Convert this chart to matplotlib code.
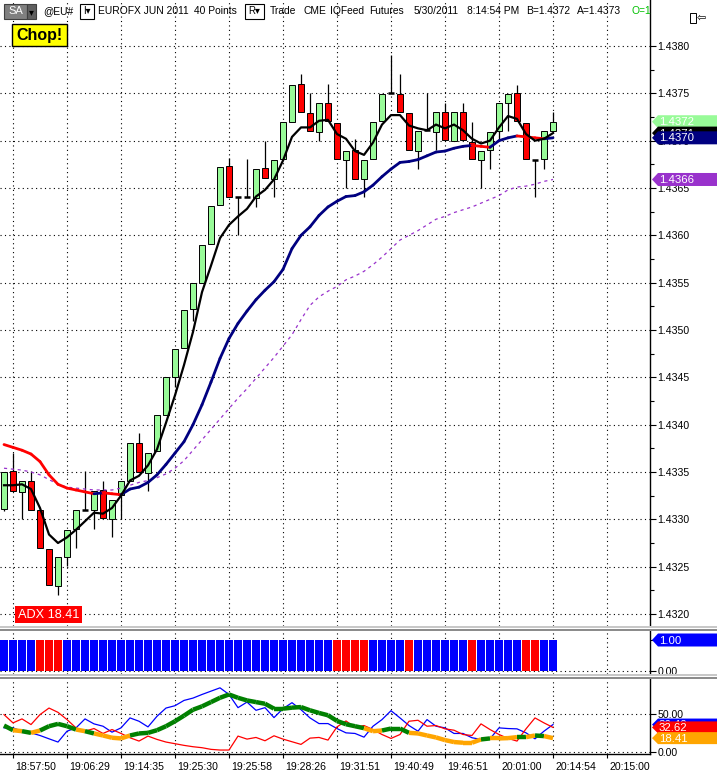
import numpy as np
import matplotlib
matplotlib.use('Agg')
import matplotlib.pyplot as plt
import matplotlib.transforms as mtransforms
from matplotlib.patches import Rectangle, Polygon
from matplotlib.collections import LineCollection

plt.rcParams['font.family'] = ['Liberation Sans', 'DejaVu Sans']

# ---- EUROFX JUN 2011, 40 point bars ----
opens = [1.43311, 1.43351, 1.43329, 1.43341, 1.43310, 1.43269, 1.43230, 1.43260, 1.43290, 1.43310,
         1.43310, 1.43331, 1.43300, 1.43326, 1.43341, 1.43381, 1.43349, 1.43372, 1.43410, 1.43450,
         1.43481, 1.43522, 1.43550, 1.43591, 1.43632, 1.43673, 1.43641, 1.43641, 1.43639, 1.43671,
         1.43660, 1.43681, 1.43720, 1.43760, 1.43729, 1.43709, 1.43740, 1.43719, 1.43680, 1.43690,
         1.43660, 1.43681, 1.43721, 1.43750, 1.43749, 1.43729, 1.43689, 1.43711, 1.43709, 1.43730,
         1.43700, 1.43730, 1.43699, 1.43680, 1.43690, 1.43710, 1.43740, 1.43750, 1.43719, 1.43680,
         1.43681, 1.43710]
highs = [1.43350, 1.43370, 1.43340, 1.43351, 1.43310, 1.43269, 1.43260, 1.43289, 1.43310, 1.43351,
         1.43330, 1.43340, 1.43320, 1.43340, 1.43381, 1.43391, 1.43370, 1.43410, 1.43450, 1.43480,
         1.43521, 1.43550, 1.43590, 1.43631, 1.43672, 1.43682, 1.43641, 1.43681, 1.43670, 1.43700,
         1.43680, 1.43720, 1.43759, 1.43770, 1.43750, 1.43740, 1.43760, 1.43719, 1.43689, 1.43702,
         1.43680, 1.43720, 1.43749, 1.43791, 1.43770, 1.43729, 1.43710, 1.43750, 1.43730, 1.43740,
         1.43730, 1.43740, 1.43720, 1.43689, 1.43709, 1.43740, 1.43749, 1.43759, 1.43719, 1.43680,
         1.43710, 1.43730]
lows = [1.43309, 1.43330, 1.43300, 1.43310, 1.43270, 1.43231, 1.43220, 1.43251, 1.43270, 1.43310,
        1.43290, 1.43301, 1.43281, 1.43300, 1.43341, 1.43350, 1.43330, 1.43372, 1.43410, 1.43440,
        1.43481, 1.43509, 1.43550, 1.43591, 1.43632, 1.43641, 1.43600, 1.43641, 1.43630, 1.43661,
        1.43641, 1.43681, 1.43720, 1.43730, 1.43710, 1.43700, 1.43721, 1.43681, 1.43650, 1.43660,
        1.43641, 1.43681, 1.43721, 1.43750, 1.43730, 1.43690, 1.43670, 1.43711, 1.43690, 1.43701,
        1.43700, 1.43701, 1.43681, 1.43650, 1.43670, 1.43700, 1.43710, 1.43721, 1.43681, 1.43641,
        1.43670, 1.43710]
closes = [1.43350, 1.43330, 1.43340, 1.43310, 1.43270, 1.43231, 1.43260, 1.43289, 1.43310, 1.43310,
          1.43330, 1.43301, 1.43320, 1.43340, 1.43381, 1.43350, 1.43370, 1.43410, 1.43450, 1.43480,
          1.43521, 1.43550, 1.43590, 1.43631, 1.43672, 1.43641, 1.43641, 1.43641, 1.43670, 1.43661,
          1.43680, 1.43720, 1.43759, 1.43730, 1.43710, 1.43740, 1.43721, 1.43681, 1.43689, 1.43660,
          1.43680, 1.43720, 1.43749, 1.43750, 1.43730, 1.43690, 1.43710, 1.43711, 1.43730, 1.43701,
          1.43730, 1.43701, 1.43681, 1.43689, 1.43709, 1.43740, 1.43749, 1.43721, 1.43681, 1.43680,
          1.43710, 1.43720]

fast_ma = [1.43336, 1.43336, 1.43337, 1.43332, 1.43312, 1.43284, 1.43275, 1.43281, 1.43289, 1.43298,
           1.43307, 1.43306, 1.43312, 1.43325, 1.43341, 1.43346, 1.43357, 1.43374, 1.43402, 1.43431,
           1.43463, 1.43498, 1.43540, 1.43568, 1.43597, 1.43611, 1.43620, 1.43628, 1.43641, 1.43648,
           1.43659, 1.43679, 1.43704, 1.43714, 1.43714, 1.43721, 1.43722, 1.43707, 1.43702, 1.43689,
           1.43685, 1.43698, 1.43717, 1.43727, 1.43727, 1.43716, 1.43713, 1.43711, 1.43717, 1.43713,
           1.43717, 1.43711, 1.43702, 1.43697, 1.43700, 1.43714, 1.43726, 1.43723, 1.43707, 1.43700,
           1.43702, 1.43708]
mid_ma = [1.43379, 1.43376, 1.43373, 1.43369, 1.43361, 1.43347, 1.43337, 1.43333, 1.43331, 1.43329,
          1.43327, 1.43328, 1.43327, 1.43326, 1.43332, 1.43334, 1.43339, 1.43347, 1.43358, 1.43370,
          1.43382, 1.43400, 1.43421, 1.43445, 1.43470, 1.43491, 1.43507, 1.43520, 1.43532, 1.43542,
          1.43551, 1.43564, 1.43586, 1.43600, 1.43609, 1.43621, 1.43630, 1.43636, 1.43641, 1.43642,
          1.43646, 1.43653, 1.43662, 1.43670, 1.43677, 1.43678, 1.43680, 1.43684, 1.43688, 1.43689,
          1.43692, 1.43694, 1.43695, 1.43694, 1.43693, 1.43700, 1.43703, 1.43705, 1.43704, 1.43703,
          1.43702, 1.43703]
slow_ma = [1.43354, 1.43353, 1.43352, 1.43350, 1.43347, 1.43342, 1.43337, 1.43334, 1.43333, 1.43332,
           1.43331, 1.43331, 1.43331, 1.43333, 1.43336, 1.43339, 1.43341, 1.43344, 1.43348, 1.43354,
           1.43362, 1.43373, 1.43384, 1.43395, 1.43406, 1.43417, 1.43428, 1.43438, 1.43449, 1.43460,
           1.43471, 1.43483, 1.43495, 1.43511, 1.43526, 1.43535, 1.43541, 1.43546, 1.43553, 1.43557,
           1.43562, 1.43569, 1.43577, 1.43586, 1.43595, 1.43600, 1.43605, 1.43611, 1.43617, 1.43620,
           1.43624, 1.43627, 1.43630, 1.43634, 1.43638, 1.43642, 1.43648, 1.43651, 1.43652, 1.43654,
           1.43657, 1.43659]

chop_values = [1.0] * 62
chop_red = [4, 5, 6, 37, 38, 39, 40, 45, 52, 58, 59]

plus_di = [32.0, 32.0, 27.6, 25.4, 21.9, 17.5, 13.2, 27.6, 32.0, 43.9,
           37.3, 34.2, 26.3, 32.0, 45.2, 40.8, 33.3, 47.4, 58.3, 61.4,
           68.4, 71.5, 76.3, 80.7, 85.1, 76.3, 58.8, 66.2, 55.3, 58.8,
           45.6, 57.5, 65.4, 56.1, 45.2, 37.7, 37.7, 31.1, 25.4, 24.6,
           19.7, 34.2, 43.0, 54.8, 45.2, 35.1, 27.6, 43.0, 34.2, 32.0,
           24.6, 24.6, 18.9, 16.7, 17.5, 32.0, 31.1, 30.7, 25.4, 17.5,
           27.6, 36.4]
minus_di = [49.6, 38.6, 43.9, 36.4, 49.6, 58.3, 52.6, 43.0, 32.0, 27.6,
            31.1, 24.6, 29.8, 24.6, 18.9, 14.5, 21.1, 16.7, 13.2, 11.0,
            8.8, 7.0, 5.7, 3.5, 2.6, 2.6, 21.1, 17.1, 19.3, 14.9,
            21.5, 17.1, 13.6, 10.1, 18.4, 19.3, 15.8, 33.3, 41.2, 32.5,
            35.1, 29.8, 23.2, 18.0, 23.2, 40.8, 42.1, 34.2, 35.1, 30.7,
            28.9, 23.2, 21.9, 37.3, 29.8, 23.2, 18.0, 14.5, 30.7, 45.2,
            38.6, 32.62]
adx = [35.1, 28.9, 27.6, 25.4, 28.5, 34.2, 37.3, 34.2, 29.8, 27.6,
       24.6, 21.9, 18.9, 18.0, 21.9, 24.6, 25.4, 28.9, 34.2, 40.8,
       48.2, 56.1, 60.5, 66.2, 71.9, 76.3, 71.9, 68.4, 66.2, 64.0,
       57.5, 57.5, 58.8, 59.6, 55.3, 51.8, 48.7, 41.2, 36.8, 34.2,
       31.6, 27.6, 28.5, 31.1, 31.1, 25.4, 24.6, 21.9, 19.3, 15.8,
       13.2, 12.3, 12.3, 16.7, 18.0, 18.0, 18.4, 19.7, 19.7, 21.9,
       21.1, 18.41]
# segments (bar i -> i+1) where the ADX line is drawn orange
adx_weak = [1, 3, 8, 10, 11, 12, 13, 40, 41, 45, 46, 47, 48, 49, 50, 51, 52, 54, 55, 56, 58, 60]

time_labels = ['18:57:50', '19:06:29', '19:14:35', '19:25:30', '19:25:58', '19:28:26',
               '19:31:51', '19:40:49', '19:46:51', '20:01:00', '20:14:54', '20:15:00']
price_ticks = [1.4320, 1.4325, 1.4330, 1.4335, 1.4340, 1.4345, 1.4350,
               1.4355, 1.4360, 1.4365, 1.4370, 1.4375, 1.4380]

# ---- layout in pixels ----
W, H = 717, 771
fig = plt.figure(figsize=(W / 100, H / 100), dpi=100)
fig.patch.set_facecolor('white')


def rect(x0, y0, x1, y1):
    return [x0 / W, 1 - y1 / H, (x1 - x0) / W, (y1 - y0) / H]


def lims(top, bot, ya, va, yb, vb):
    k = (vb - va) / (yb - ya)
    return va + (bot - ya) * k, va + (top - ya) * k


def fbox(x0, y0, x1, y1, **kw):
    fig.patches.append(Rectangle((x0 / W, 1 - y1 / H), (x1 - x0) / W, (y1 - y0) / H,
                                 transform=fig.transFigure, **kw))


def ftext(x, y, s, **kw):
    kw.setdefault('va', 'center')
    kw.setdefault('fontsize', 7.4)
    fig.text(x / W, 1 - y / H, s, **kw)


n = len(closes)
idx = np.arange(n)
grid_bars = np.arange(1, 68, 6)
dot = (0, (1, 3))

ax = fig.add_axes(rect(0, 0, 650, 626))
ax2 = fig.add_axes(rect(0, 631, 650, 674))
ax3 = fig.add_axes(rect(0, 679, 650, 754))

ax.set_ylim(*lims(0, 626, 46, 1.4380, 614, 1.4320))
ax2.set_ylim(*lims(631, 674, 640, 1.0, 670.7, 0.0))
ax3.set_ylim(*lims(679, 754, 714.3, 50.0, 752, 0.0))

for a in (ax, ax2, ax3):
    a.set_xlim(-4 / 9, 646 / 9)
    a.set_facecolor('white')
    for s in ('top', 'left', 'bottom'):
        a.spines[s].set_visible(False)
    a.spines['right'].set_linewidth(1.0)
    a.yaxis.tick_right()
    a.tick_params(axis='y', which='both', direction='out', length=4, width=0.8,
                  pad=1.5, labelsize=7.6)
    a.set_xticks(grid_bars)
    a.tick_params(axis='x', length=0, labelbottom=False)
    for g in grid_bars:
        a.axvline(g, color='black', lw=0.8, ls=dot, zorder=0)

# price pane
ax.set_yticks(price_ticks)
ax.set_yticklabels([f'{t:.4f}' for t in price_ticks])
ax.set_yticks(np.array(price_ticks[:-1]) + 0.00025, minor=True)
ax.tick_params(axis='y', which='minor', length=3)
for t in price_ticks:
    ax.axhline(t, color='black', lw=0.8, ls=dot, zorder=0)

body_w = 0.66
for i in idx:
    o, h, l, c = opens[i], highs[i], lows[i], closes[i]
    ax.vlines(i, l, h, color='black', lw=0.9, zorder=2)
    if abs(c - o) < 0.00002:
        ax.hlines(o, i - body_w / 2, i + body_w / 2, color='black', lw=1.8, zorder=3)
    else:
        fc = '#98fb98' if c > o else '#ff0000'
        ax.add_patch(Rectangle((i - body_w / 2, min(o, c)), body_w, abs(c - o),
                               facecolor=fc, edgecolor='black', lw=0.7, zorder=3))

ax.plot(idx, slow_ma, color='#9932cc', lw=0.9, ls=(0, (2.5, 3)), zorder=4)
mid = np.array(mid_ma)
segs = [[(i, mid[i]), (i + 1, mid[i + 1])] for i in range(n - 1)]
cols = ['#ff0000' if mid[i + 1] < mid[i] else '#000080' for i in range(n - 1)]
ax.add_collection(LineCollection(segs, colors=cols, linewidths=2.0, zorder=5, capstyle='round'))
ax.plot(idx, fast_ma, color='black', lw=1.6, zorder=6)

# chop pane
ax2.set_yticks([0, 1])
ax2.set_yticklabels(['0.00', ''])
ax2.axhline(0, color='black', lw=0.8, ls=dot, zorder=0)
ax2.bar(idx, chop_values, width=0.78,
        color=['#ff0000' if i in chop_red else '#0000ff' for i in idx], zorder=2)

# DMI / ADX pane
ax3.set_yticks([0, 50])
ax3.set_yticklabels(['0.00', '50.00'])
for v in (0, 50):
    ax3.axhline(v, color='black', lw=0.8, ls=dot, zorder=0)
ax3.plot(idx, plus_di, color='#0000ff', lw=0.9, zorder=3)
ax3.plot(idx, minus_di, color='#ff0000', lw=0.9, zorder=3)
asegs = [[(i, adx[i]), (i + 1, adx[i + 1])] for i in range(n - 1)]
acols = ['#ffa500' if i in adx_weak else '#008000' for i in range(n - 1)]
ax3.add_collection(LineCollection(asegs, colors=acols, linewidths=3.2, zorder=4, capstyle='butt'))
ax3.spines['bottom'].set_visible(True)
ax3.spines['bottom'].set_linewidth(1.0)
ax3.tick_params(axis='x', direction='out', length=3, width=0.8, labelbottom=True,
                labelsize=7.6, pad=3)
ax3.set_xticklabels(time_labels)
shift = mtransforms.ScaledTranslation(2 / 100, 0, fig.dpi_scale_trans)
for lbl in ax3.get_xticklabels():
    lbl.set_horizontalalignment('left')
    lbl.set_transform(lbl.get_transform() + shift)

# value tags on the right scale, each one laid over the previous
tag_z = [10]


def tag(axis, value, text, fc, h=13):
    yc = H - axis.transData.transform((0, value))[1]
    pts = [(652, yc), (658, yc - h / 2), (718, yc - h / 2), (718, yc + h / 2), (658, yc + h / 2)]
    z = tag_z[0]
    fig.patches.append(Polygon([(x / W, 1 - y / H) for x, y in pts], closed=True,
                               transform=fig.transFigure, facecolor=fc, edgecolor='none', zorder=z))
    ftext(659, yc + 0.5, text, color='white', fontsize=8.2, zorder=z + 0.5)
    tag_z[0] += 1


tag(ax, closes[-1], f'{closes[-1]:.4f}', '#98fb98')
tag(ax, fast_ma[-1], f'{fast_ma[-1]:.4f}', 'black')
tag(ax, mid_ma[-1], f'{mid_ma[-1]:.4f}', '#000080')
tag(ax, slow_ma[-1], f'{slow_ma[-1]:.4f}', '#9932cc')
tag(ax2, chop_values[-1], f'{chop_values[-1]:.2f}', '#0000ff')
tag(ax3, plus_di[-1], f'{plus_di[-1]:.2f}', '#0000ff', h=12)
tag(ax3, minus_di[-1], f'{minus_di[-1]:.2f}', '#ff0000', h=12)
tag(ax3, adx[-1], f'{adx[-1]:.2f}', '#ffa500', h=12)

# pane separators
for y0 in (626, 674):
    fbox(0, y0, 717, y0 + 2, facecolor='#c8c8c8', edgecolor='none', zorder=8)
    fbox(0, y0 + 3, 717, y0 + 5, facecolor='#8c8c8c', edgecolor='none', zorder=8)

# header line
fbox(4, 4, 27, 19, facecolor='#808080', edgecolor='#404040', lw=0.8)
ftext(15.5, 11.5, 'SA', color='white', ha='center', fontsize=8)
fbox(27, 4, 36, 19, facecolor='#5f5f5f', edgecolor='#404040', lw=0.8)
ftext(31.5, 12, '▾', color='black', ha='center', fontsize=7)
ftext(43, 11.5, '@EU#')
fbox(80, 4, 94, 19, facecolor='white', edgecolor='black', lw=0.8)
ftext(87, 11.5, 'I▾', ha='center', fontsize=7)
ftext(98, 11.5, 'EUROFX JUN 2011')
ftext(194, 11.5, '40 Points')
fbox(245, 4, 264, 19, facecolor='white', edgecolor='black', lw=0.8)
ftext(254.5, 11.5, 'R▾', ha='center', fontsize=7)
for xw, word in [(270, 'Trade'), (304, 'CME'), (330, 'IQFeed'), (369, 'Futures'),
                 (414, '5/30/2011'), (467, '8:14:54 PM'), (526, 'B=1.4372'), (577, 'A=1.4373')]:
    ftext(xw, 11.5, word)
ftext(632, 11.5, 'O=1', color='#00c000')
fbox(690, 13, 696, 23, facecolor='white', edgecolor='black', lw=0.7)
ftext(697, 18, '⇦', fontsize=8)

# labels inside the price pane
fbox(12, 24, 67, 46, facecolor='#ffff00', edgecolor='black', lw=1.0, zorder=9)
ftext(39.5, 35.5, 'Chop!', ha='center', fontsize=11.5, fontweight='bold', zorder=9.5)
fbox(15, 606, 82, 623, facecolor='#ff0000', edgecolor='none', zorder=9)
ftext(18, 615, f'ADX {adx[-1]:.2f}', color='white', fontsize=9.2, zorder=9.5)

fig.savefig('out.png', dpi=100, facecolor='white')
